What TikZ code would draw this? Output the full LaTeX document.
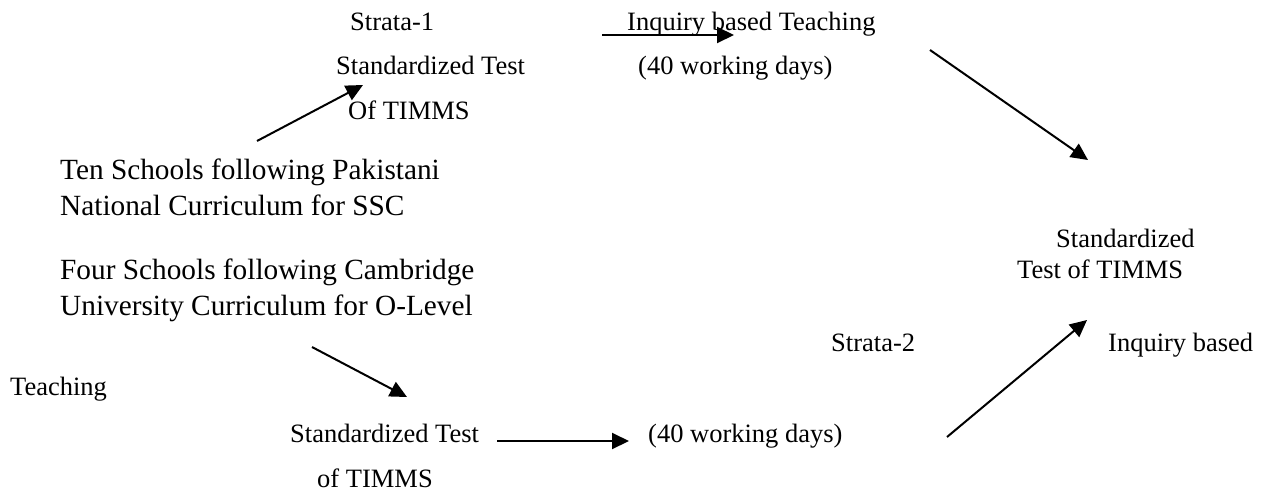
\documentclass[tikz,border=0pt]{standalone}
\usepackage{fontspec}
\setmainfont{Liberation Serif}
\usetikzlibrary{arrows.meta, positioning}
\definecolor{InkBlack}{HTML}{000000}
\newcommand{\labelfont}{\fontsize{26.5}{31}\selectfont}
\newcommand{\schoolfont}{\fontsize{29.3}{36}\selectfont}

\begin{document}
\begin{tikzpicture}[x=1pt, y=-1pt,
    steplabel/.style={anchor=base west, inner sep=0pt, text=InkBlack, font=\labelfont},
    schoolgroup/.style={anchor=north west, inner sep=0pt, text=InkBlack, font=\schoolfont, align=left},
    flowarrow/.style={InkBlack, line width=2pt, -{Triangle[length=17pt, width=16pt]}}]
    \useasboundingbox (0,0) rectangle (1263,493);

    % Strata-1 row
    \node[steplabel] (strataone) at (350,30) {Strata-1};
    \node[steplabel] (inqtop) at (627,30) {Inquiry based Teaching};
    \node[steplabel] (stdtop) at (336,74) {Standardized Test};
    \node[steplabel] (daystop) at (638,74) {(40 working days)};
    \node[steplabel] (oftop) at (348,119) {Of TIMMS};

    % The two groups of schools
    \node[schoolgroup] (tenschools) at (60,159) {Ten Schools following Pakistani\\National Curriculum for SSC};
    \node[schoolgroup] (fourschools) at (60,259) {Four Schools following Cambridge\\University Curriculum for O-Level};

    % Strata-2 row
    \node[steplabel] (teachleft) at (10,395) {Teaching};
    \node[steplabel] (stdbot) at (290,442) {Standardized Test};
    \node[steplabel] (daysbot) at (648,442) {(40 working days)};
    \node[steplabel] (ofbot) at (317,487) {of TIMMS};
    \node[steplabel] (stratatwo) at (831,351) {Strata-2};
    \node[steplabel] (inqright) at (1108,351) {Inquiry based};

    % Final test
    \node[steplabel] (finalstd) at (1056,247) {Standardized};
    \node[steplabel] (finaltest) at (1017,278) {Test of TIMMS};

    % Arrow ends
    \coordinate (tenout) at (257,141);
    \coordinate (stdtopin) at (363,85);
    \coordinate (topflowout) at (602,35);
    \coordinate (topflowin) at (734,35);
    \coordinate (daystopout) at (930,50);
    \coordinate (finalinone) at (1088,160);
    \coordinate (fourout) at (312,347);
    \coordinate (stdbotin) at (407,397);
    \coordinate (botflowout) at (497,441);
    \coordinate (botflowin) at (629,441);
    \coordinate (daysbotout) at (947,437);
    \coordinate (finalintwo) at (1087,320);

    \draw[flowarrow] (tenout) -- (stdtopin);
    \draw[flowarrow] (topflowout) -- (topflowin);
    \draw[flowarrow] (daystopout) -- (finalinone);
    \draw[flowarrow] (fourout) -- (stdbotin);
    \draw[flowarrow] (botflowout) -- (botflowin);
    \draw[flowarrow] (daysbotout) -- (finalintwo);
\end{tikzpicture}
\end{document}
